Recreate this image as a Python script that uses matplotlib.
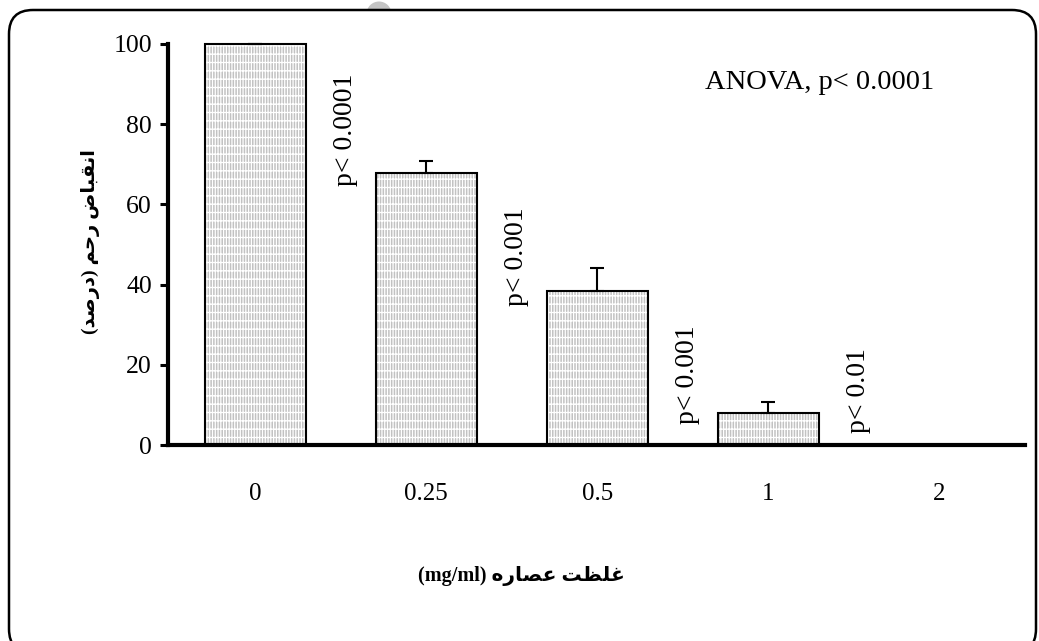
import matplotlib
matplotlib.use("Agg")
import matplotlib.pyplot as plt
from matplotlib.patches import FancyBboxPatch, Circle, Rectangle
import numpy as np

# ── Data ──────────────────────────────────────────────────────────────────────
doses    = ["0", "0.25", "0.5", "1", "2"]
response = [100, 67.8, 38.5, 8.1, 0]
sem      = [0, 3.1, 5.6, 2.5, 0]
p_labels = ["p< 0.0001", "p< 0.001", "p< 0.001", "p< 0.01"]
p_tops   = [92.5, 59.2, 29.9, 24.1]
anova    = "ANOVA, p< 0.0001"
xlabel_fa = "غلظت عصاره"
ylabel_fa = "انقباض رحم (درصد)"

# ── Minimal Arabic shaping (presentation forms) + visual RTL order ──────────
FORMS = {
    "ا": ("\uFE8D", "\uFE8E", None, None),
    "ب": ("\uFE8F", "\uFE90", "\uFE91", "\uFE92"),
    "ت": ("\uFE95", "\uFE96", "\uFE97", "\uFE98"),
    "ح": ("\uFEA1", "\uFEA2", "\uFEA3", "\uFEA4"),
    "د": ("\uFEA9", "\uFEAA", None, None),
    "ر": ("\uFEAD", "\uFEAE", None, None),
    "ص": ("\uFEB9", "\uFEBA", "\uFEBB", "\uFEBC"),
    "ض": ("\uFEBD", "\uFEBE", "\uFEBF", "\uFEC0"),
    "ظ": ("\uFEC5", "\uFEC6", "\uFEC7", "\uFEC8"),
    "ع": ("\uFEC9", "\uFECA", "\uFECB", "\uFECC"),
    "غ": ("\uFECD", "\uFECE", "\uFECF", "\uFED0"),
    "ق": ("\uFED5", "\uFED6", "\uFED7", "\uFED8"),
    "ل": ("\uFEDD", "\uFEDE", "\uFEDF", "\uFEE0"),
    "م": ("\uFEE1", "\uFEE2", "\uFEE3", "\uFEE4"),
    "ن": ("\uFEE5", "\uFEE6", "\uFEE7", "\uFEE8"),
    "ه": ("\uFEE9", "\uFEEA", "\uFEEB", "\uFEEC"),
}


def rtl(text):
    out = []
    for i, c in enumerate(text):
        if c not in FORMS:
            out.append(c)
            continue
        prev = text[i - 1] if i > 0 else None
        nxt = text[i + 1] if i + 1 < len(text) else None
        jp = prev in FORMS and FORMS[prev][2] is not None
        jn = FORMS[c][2] is not None and nxt in FORMS
        iso, fin, ini, med = FORMS[c]
        out.append(med if (jp and jn) else fin if jp else ini if jn else iso)
    swap = {"(": ")", ")": "("}
    return "".join(swap.get(c, c) for c in reversed(out))


SERIF = ["Liberation Serif", "DejaVu Serif"]
AR = ["Liberation Serif", "DejaVu Sans"]
plt.rcParams["font.family"] = SERIF
plt.rcParams["hatch.linewidth"] = 0.9

# ── Figure ────────────────────────────────────────────────────────────────────
fig = plt.figure(figsize=(10.39, 6.41), dpi=100)
fig.patch.set_facecolor("white")

# rounded frame + small grey dome on top
fig.patches.append(FancyBboxPatch((0.09, -0.12), 10.27, 6.43,
                                  boxstyle="round,pad=0,rounding_size=0.24",
                                  transform=fig.dpi_scale_trans, fill=False,
                                  edgecolor="black", linewidth=1.8))
dome = Circle((3.79, 6.27), 0.125, transform=fig.dpi_scale_trans,
              facecolor="#c4c4c4", edgecolor="none", zorder=-1)
dome.set_clip_path(Rectangle((3.5, 6.31), 0.6, 0.2, transform=fig.dpi_scale_trans))
fig.patches.append(dome)

ax = fig.add_axes([168 / 1039, 196 / 641, 857 / 1039, 401 / 641])
x = np.arange(len(doses))

ax.bar(x, response, width=0.59, color="#c2c2c2", edgecolor="white",
       hatch="||||||--", linewidth=0, clip_on=False, zorder=2)
ax.bar(x, response, width=0.59, fill=False, edgecolor="black",
       linewidth=1.5, clip_on=False, zorder=3)
ax.errorbar(x, response, yerr=[np.zeros(len(sem)), sem], fmt="none",
            ecolor="black", elinewidth=1.5, capsize=4.8, capthick=1.5,
            clip_on=False, zorder=3)

for i, (lab, top) in enumerate(zip(p_labels, p_tops)):
    ax.text(i + 0.525, top, lab, rotation=90, ha="center", va="top", fontsize=20)
ax.text(3.3, 90.3, anova, ha="center", va="center", fontsize=20.5)

ax.set_xlim(-0.51, 4.5)
ax.set_ylim(0, 100)
ax.set_yticks([0, 20, 40, 60, 80, 100])
ax.set_xticks(x)
ax.set_xticklabels(doses)
ax.tick_params(axis="x", length=0, pad=27, labelsize=18)
ax.tick_params(axis="y", length=5.5, width=2.2, pad=6, labelsize=18.5)
for s in ["top", "right"]:
    ax.spines[s].set_visible(False)
for s in ["left", "bottom"]:
    ax.spines[s].set_linewidth(3)
    ax.spines[s].set_zorder(4)

fig.text(90 / 1039, 1 - 242 / 641, rtl(ylabel_fa), rotation=90, ha="center",
         va="center", fontsize=14, fontweight="bold", family=AR)
fig.text(521 / 1039, 1 - 576 / 641, "(mg/ml) " + rtl(xlabel_fa), ha="center",
         va="center", fontsize=14.5, fontweight="bold", family=AR)

fig.savefig("out.png", dpi=100, facecolor=fig.get_facecolor())
